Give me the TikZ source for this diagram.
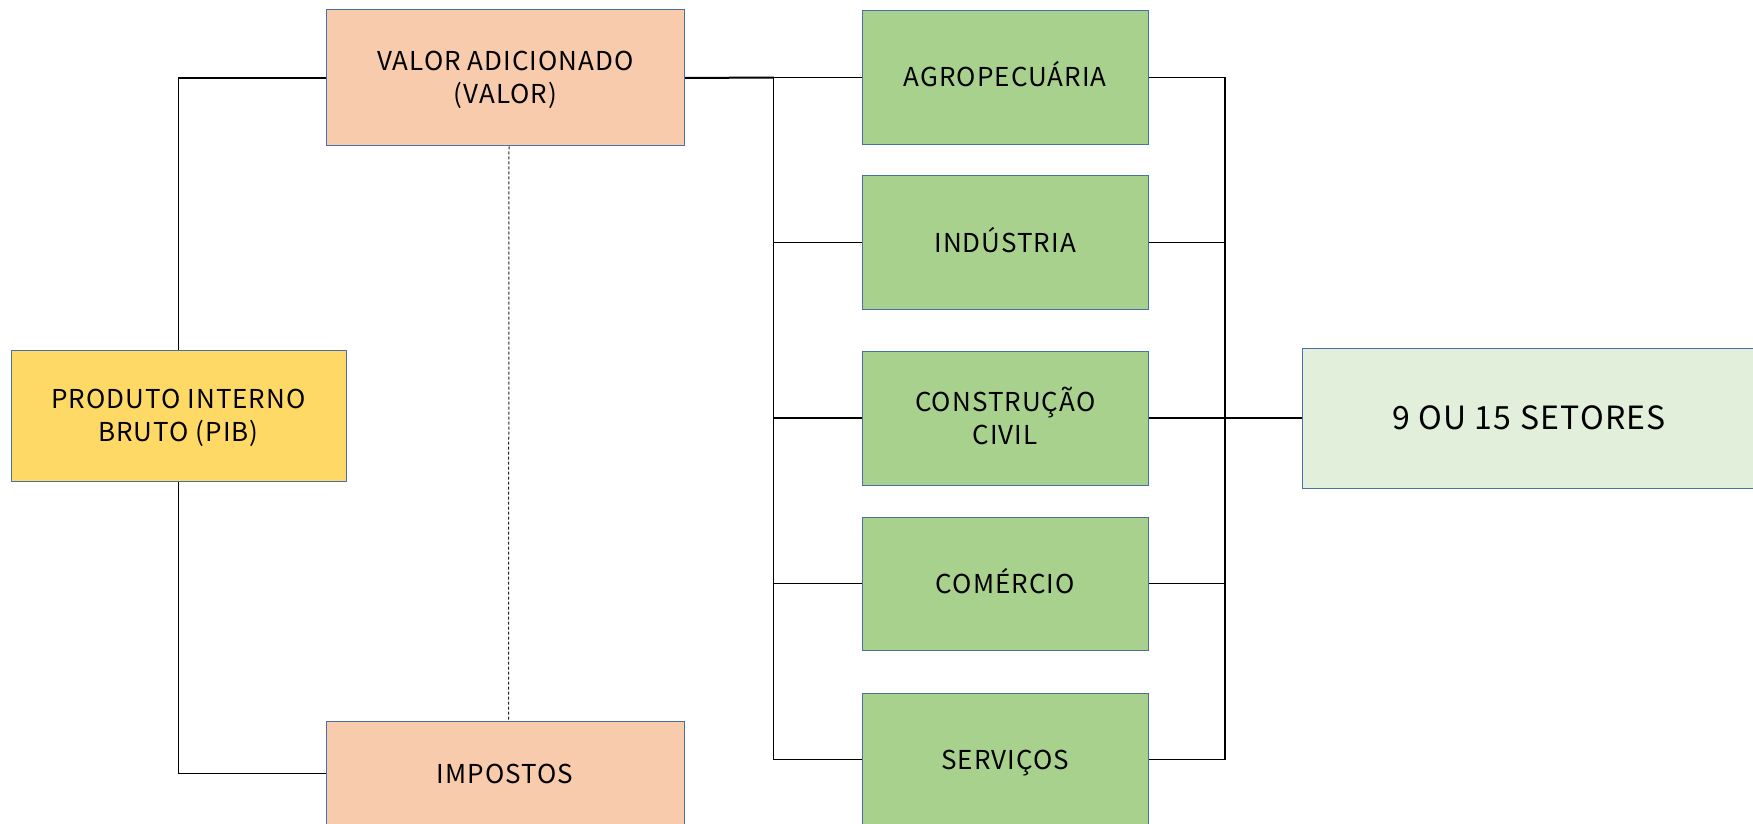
\documentclass[tikz,border=0pt]{standalone}
\usepackage{fontspec}
\setmainfont{Noto Sans CJK JP}[LetterSpace=4]
\definecolor{peach}{HTML}{F8CBAD}
\definecolor{gold}{HTML}{FFD966}
\definecolor{leaf}{HTML}{A9D18E}
\definecolor{pale}{HTML}{E2EFDA}
\definecolor{edge}{HTML}{4A6FA5}
\tikzset{
  box/.style={draw=edge, line width=0.5pt, rectangle, align=center, inner sep=0pt,
    font=\fontsize{13}{16.5}\selectfont},
  oneline/.style={text height=9.5pt, text depth=0pt},
  twoline/.style={text height=26pt, text depth=0pt},
  conn/.style={draw=black, line width=0.55pt},
}
\begin{document}
\begin{tikzpicture}[x=0.5pt, y=-0.5pt]
\useasboundingbox (0,0) rectangle (1753,824);
\clip (0,0) rectangle (1753,824);
% nodes
\node[box, twoline, fill=peach, minimum width=179pt, minimum height=68pt] (V) at (505.5,78) {VALOR ADICIONADO\\(VALOR)};
\node[box, oneline, fill=peach, minimum width=179pt, minimum height=52.5pt] (I) at (505,773.5) {IMPOSTOS};
\node[box, twoline, fill=gold, minimum width=167.5pt, minimum height=65.5pt] (P) at (178.5,415.5) {PRODUTO INTERNO\\BRUTO (PIB)};
\node[box, oneline, fill=leaf, minimum width=143.25pt, minimum height=67pt] (A) at (1005.25,77.5) {AGROPECUÁRIA};
\node[box, oneline, fill=leaf, minimum width=143.25pt, minimum height=66.5pt] (D) at (1005.25,242.5) {INDÚSTRIA};
\node[box, twoline, fill=leaf, minimum width=143.25pt, minimum height=67pt] (C) at (1005.25,418) {CONSTRUÇÃO\\CIVIL};
\node[box, oneline, fill=leaf, minimum width=143.25pt, minimum height=66.5pt] (M) at (1005.25,583.5) {COMÉRCIO};
\node[box, oneline, fill=leaf, minimum width=143.25pt, minimum height=66.5pt] (S) at (1005.25,759.5) {SERVIÇOS};
\node[box, fill=pale, minimum width=227pt, minimum height=70pt, font=\fontsize{16}{19}\selectfont, text height=11.7pt, text depth=0pt] (N) at (1529,418) {9 OU 15 SETORES};
% buses
\coordinate (bl) at (773.5,77.5);
\coordinate (br) at (1225,77.5);
% left part
\draw[conn] (P.north) |- (V.west);
\draw[conn] (P.south) |- (I.west);
\draw[black!85, line width=0.5pt, dash pattern=on 1.5pt off 1pt] ([xshift=1.75pt]V.south) -- ([xshift=1.75pt]I.north);
% value added to sectors
\draw[draw=black, line width=1pt] (V.east) -- (bl);
\draw[conn] (bl) -- (A.west);
\draw[conn] (bl) -- (bl |- S.west);
\draw[conn] (bl |- D.west) -- (D.west);
\draw[conn] (bl |- C.west) -- (C.west);
\draw[conn] (bl |- M.west) -- (M.west);
\draw[conn] (bl |- S.west) -- (S.west);
% sectors to total
\draw[conn] (A.east) -- (br);
\draw[conn] (br) -- (br |- S.east);
\draw[conn] (D.east) -- (br |- D.east);
\draw[conn] (C.east) -- (br |- C.east);
\draw[conn] (M.east) -- (br |- M.east);
\draw[conn] (S.east) -- (br |- S.east);
\draw[conn] (br |- N.west) -- (N.west);
\end{tikzpicture}
\end{document}
